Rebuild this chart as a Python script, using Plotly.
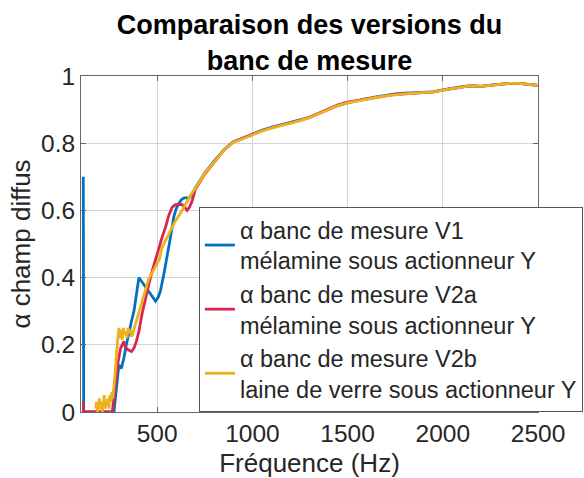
import plotly.graph_objects as go

# ---- data ----
f_v1 = [112, 114, 273, 285, 299, 312, 325, 338, 352, 365, 378, 391, 404, 417, 430, 448,
        465, 478, 491, 504, 517, 535, 552, 570, 587, 600, 613, 627, 640, 653, 666, 680]
a_v1 = [0.70, 0.0, 0.0, 0.07, 0.14, 0.13, 0.16, 0.20, 0.24, 0.27, 0.30, 0.35, 0.40, 0.39, 0.38, 0.365,
        0.35, 0.34, 0.33, 0.34, 0.36, 0.41, 0.46, 0.52, 0.58, 0.605, 0.62, 0.632, 0.637, 0.638, 0.636, 0.645]

f_v2a = [112, 114, 264, 280, 295, 308, 318, 325, 335, 345, 352, 365, 378, 391, 404, 420,
         439, 456, 474, 491, 509, 526, 544, 561, 579, 596, 613, 631, 644, 657, 670, 683]
a_v2a = [0.03, 0.0, 0.0, 0.08, 0.15, 0.19, 0.20, 0.21, 0.19, 0.185, 0.184, 0.18, 0.19, 0.21, 0.24, 0.29,
         0.34, 0.38, 0.42, 0.455, 0.49, 0.52, 0.55, 0.585, 0.61, 0.617, 0.618, 0.617, 0.61, 0.60, 0.61, 0.627]

f_v2b = [177, 182, 187, 192, 197, 202, 207, 212, 217, 222, 227, 232, 237, 242, 247, 252, 257, 262,
         267, 273, 280, 287, 293, 299, 305, 311, 317, 323, 329, 335, 341, 347, 353, 359, 365, 371,
         380, 395, 410, 425, 439, 455, 470, 483, 498, 512, 526, 540, 555, 567, 579, 592, 605, 618,
         631, 644, 657, 670, 683]
a_v2b = [0.01, 0.03, 0.00, 0.02, 0.04, 0.01, 0.03, 0.00, 0.02, 0.05, 0.01, 0.03, 0.02, 0.04, 0.01, 0.05, 0.03, 0.06,
         0.04, 0.07, 0.12, 0.18, 0.22, 0.25, 0.22, 0.245, 0.215, 0.25, 0.23, 0.24, 0.22, 0.25, 0.235, 0.245, 0.225, 0.23,
         0.25, 0.28, 0.31, 0.34, 0.37, 0.395, 0.41, 0.425, 0.44, 0.455, 0.49, 0.505, 0.52, 0.535, 0.55, 0.565, 0.575, 0.588,
         0.60, 0.615, 0.63, 0.64, 0.652]

# common high-frequency part (all three versions overlap)
f_high = [700, 750, 800, 850, 900, 950, 1000, 1050, 1100, 1150, 1200, 1250, 1300, 1350, 1400, 1450,
          1500, 1550, 1600, 1650, 1700, 1750, 1800, 1850, 1900, 1950, 2000, 2050, 2100, 2150, 2200,
          2250, 2300, 2350, 2400, 2450, 2500]
a_v1_high = [0.667, 0.711, 0.747, 0.780, 0.804, 0.816, 0.828, 0.838, 0.847, 0.854, 0.862, 0.868, 0.877, 0.889,
             0.901, 0.912, 0.920, 0.927, 0.933, 0.938, 0.943, 0.947, 0.949, 0.950, 0.951, 0.953, 0.959,
             0.964, 0.968, 0.971, 0.969, 0.973, 0.976, 0.978, 0.978, 0.976, 0.972]
a_v2a_high = [0.662, 0.708, 0.744, 0.779, 0.804, 0.815, 0.827, 0.837, 0.846, 0.853, 0.860, 0.868, 0.877, 0.889,
              0.901, 0.914, 0.922, 0.927, 0.932, 0.936, 0.941, 0.945, 0.947, 0.949, 0.951, 0.953, 0.958,
              0.963, 0.967, 0.971, 0.969, 0.972, 0.976, 0.978, 0.978, 0.976, 0.972]
a_v2b_high = [0.665, 0.710, 0.745, 0.779, 0.802, 0.814, 0.826, 0.836, 0.845, 0.852, 0.860, 0.867, 0.876, 0.888,
              0.900, 0.912, 0.920, 0.926, 0.931, 0.936, 0.941, 0.945, 0.947, 0.949, 0.950, 0.952, 0.958,
              0.963, 0.967, 0.971, 0.969, 0.972, 0.976, 0.978, 0.978, 0.976, 0.972]

names = [
    "α banc de mesure V1<br>mélamine sous actionneur Y",
    "α banc de mesure V2a<br>mélamine sous actionneur Y",
    "α banc de mesure V2b<br>laine de verre sous actionneur Y",
]
colors = ["#0072BD", "#D8264F", "#EDB120"]

x_ticks = [500, 1000, 1500, 2000, 2500]
y_ticks = [0, 0.2, 0.4, 0.6, 0.8, 1]
y_tick_text = ["0", "0.2", "0.4", "0.6", "0.8", "1"]

FONT = "Liberation Sans, Arial, sans-serif"

fig = go.Figure()
series = [
    (f_v1 + f_high, a_v1 + a_v1_high),
    (f_v2a + f_high, a_v2a + a_v2a_high),
    (f_v2b + f_high, a_v2b + a_v2b_high),
]
for (fx, ay), name, col in zip(series, names, colors):
    fig.add_trace(go.Scatter(x=fx, y=ay, mode="lines", name=name,
                             line=dict(color=col, width=2.8)))

axis_common = dict(
    showline=True, linecolor="#666666", linewidth=1, mirror="ticks",
    ticks="inside", ticklen=5, tickcolor="#666666",
    showgrid=True, gridcolor="#d4d4d4", gridwidth=1,
    zeroline=False,
    tickfont=dict(family=FONT, size=24.5, color="#262626"),
)

fig.update_layout(
    width=584, height=478,
    margin=dict(l=81, r=46, t=76, b=66, autoexpand=False),
    paper_bgcolor="white", plot_bgcolor="white",
    title=dict(text="<b>Comparaison des versions du<br>banc de mesure</b>",
               x=0.5, xref="paper", xanchor="center",
               y=0.928, yref="container", yanchor="top",
               font=dict(family=FONT, size=27, color="#000000")),
    xaxis=dict(range=[100, 2500], tickvals=x_ticks, ticktext=[str(v) for v in x_ticks],
               title=dict(text="Fréquence (Hz)", font=dict(family=FONT, size=26, color="#262626"),
                          standoff=9),
               automargin=False, **axis_common),
    yaxis=dict(range=[0, 1], tickvals=y_ticks, ticktext=y_tick_text,
               title=dict(text="α champ diffus", font=dict(family=FONT, size=26, color="#262626"),
                          standoff=2),
               automargin=False, **axis_common),
    legend=dict(x=0.258, xref="paper", xanchor="left", y=0, yref="paper", yanchor="bottom",
                bgcolor="white", bordercolor="#555555", borderwidth=1,
                font=dict(family=FONT, size=23.5, color="#262626"),
                tracegroupgap=0, itemwidth=30),
    showlegend=True,
)

fig.write_html("out.html")
